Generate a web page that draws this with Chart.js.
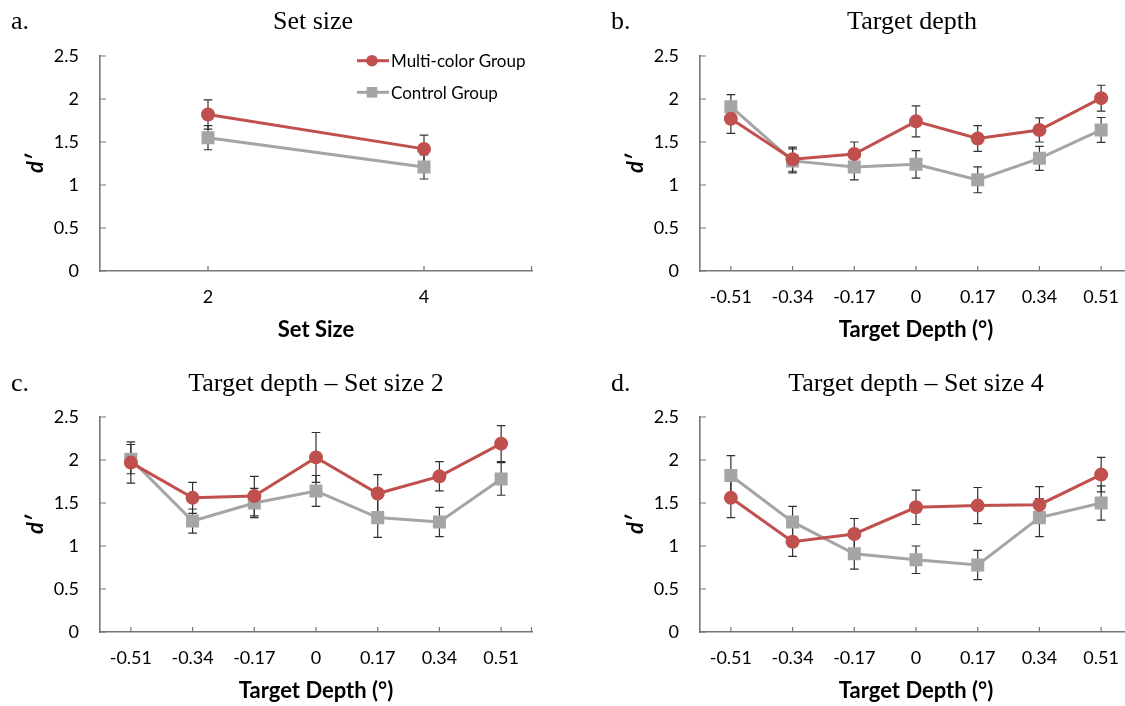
<!DOCTYPE html>
<html lang="en">
<head>
<meta charset="UTF-8">
<title>d' by set size and target depth</title>
<style>
  html, body { margin: 0; padding: 0; background: #fff; overflow: hidden; }
  body { width: 1125px; height: 706px; position: relative; }
  canvas { position: absolute; }
</style>
</head>
<body>
<canvas id="chartA" width="560" height="350" style="left:0px;top:0px"></canvas>
<canvas id="chartB" width="560" height="350" style="left:600px;top:0px"></canvas>
<canvas id="chartC" width="560" height="350" style="left:0px;top:361px"></canvas>
<canvas id="chartD" width="560" height="350" style="left:600px;top:361px"></canvas>

<script src="https://cdn.jsdelivr.net/npm/chart.js"></script>
<script>
// categories and tick labels
const setSizes = ['2', '4'];
const depths = ['-0.51', '-0.34', '-0.17', '0', '0.17', '0.34', '0.51'];
const yTickLabels = ['0', '0.5', '1', '1.5', '2', '2.5'];

// a. set size
const multiSet = [1.82, 1.42];
const multiSetErr = [0.17, 0.16];
const ctrlSet = [1.55, 1.21];
const ctrlSetErr = [0.14, 0.14];

// b. target depth
const multiDepth = [1.77, 1.30, 1.36, 1.74, 1.54, 1.64, 2.01];
const multiDepthErr = [0.17, 0.14, 0.14, 0.18, 0.15, 0.14, 0.15];
const ctrlDepth = [1.91, 1.28, 1.21, 1.24, 1.06, 1.31, 1.64];
const ctrlDepthErr = [0.14, 0.14, 0.15, 0.16, 0.15, 0.14, 0.145];

// c. target depth - set size 2
const multiSize2 = [1.97, 1.56, 1.58, 2.03, 1.61, 1.81, 2.19];
const multiSize2Err = [0.24, 0.18, 0.23, 0.29, 0.22, 0.17, 0.21];
const ctrlSize2 = [2.01, 1.29, 1.50, 1.64, 1.33, 1.28, 1.78];
const ctrlSize2Err = [0.17, 0.14, 0.17, 0.18, 0.23, 0.17, 0.19];

// d. target depth - set size 4
const multiSize4 = [1.56, 1.05, 1.14, 1.45, 1.47, 1.48, 1.83];
const multiSize4Err = [0.23, 0.17, 0.18, 0.20, 0.21, 0.21, 0.20];
const ctrlSize4 = [1.82, 1.28, 0.91, 0.84, 0.78, 1.33, 1.50];
const ctrlSize4Err = [0.23, 0.18, 0.18, 0.16, 0.17, 0.22, 0.20];

const red = '#C0504D';
const gray = '#A5A5A5';
const axisColor = '#767676';
const errColor = '#303030';

// error bars, inward tick marks, panel letter, title and legend
const panelDecor = {
    id: 'panelDecor',
    beforeDatasetsDraw(chart) {
        const ctx = chart.ctx;
        const y = chart.scales.y;
        ctx.save();
        ctx.strokeStyle = errColor;
        ctx.lineWidth = 1.2;
        chart.data.datasets.forEach((ds, i) => {
            const meta = chart.getDatasetMeta(i);
            meta.data.forEach((pt, j) => {
                const top = y.getPixelForValue(ds.data[j] + ds.errors[j]);
                const bot = y.getPixelForValue(ds.data[j] - ds.errors[j]);
                ctx.beginPath();
                ctx.moveTo(pt.x, top); ctx.lineTo(pt.x, bot);
                ctx.moveTo(pt.x - 4.3, top); ctx.lineTo(pt.x + 4.3, top);
                ctx.moveTo(pt.x - 4.3, bot); ctx.lineTo(pt.x + 4.3, bot);
                ctx.stroke();
            });
        });
        ctx.restore();
    },
    afterDraw(chart, args, opts) {
        const ctx = chart.ctx;
        const area = chart.chartArea;
        const x = chart.scales.x;
        const y = chart.scales.y;
        ctx.save();
        // tick marks pointing into the plot
        ctx.strokeStyle = axisColor;
        ctx.lineWidth = 1.2;
        ctx.beginPath();
        x.ticks.forEach((t, i) => {
            const px = x.getPixelForTick(i);
            ctx.moveTo(px, area.bottom); ctx.lineTo(px, area.bottom - 5);
        });
        ctx.moveTo(area.right - 0.5, area.bottom); ctx.lineTo(area.right - 0.5, area.bottom - 5);
        y.ticks.forEach((t, i) => {
            const py = y.getPixelForTick(i);
            ctx.moveTo(area.left, py); ctx.lineTo(area.left + 6, py);
        });
        ctx.stroke();

        // letter and title
        ctx.fillStyle = '#000';
        ctx.textBaseline = 'alphabetic';
        ctx.font = '26px "Liberation Serif", "Times New Roman", serif';
        ctx.textAlign = 'left';
        ctx.fillText(opts.letter, opts.letterX, opts.titleY);
        ctx.textAlign = 'center';
        ctx.fillText(opts.title, opts.titleX, opts.titleY);

        // legend
        if (opts.legend) {
            const rows = [60.7, 92.3];
            chart.data.datasets.forEach((ds, i) => {
                const ly = rows[i];
                ctx.strokeStyle = ds.borderColor;
                ctx.lineWidth = 3;
                ctx.beginPath();
                ctx.moveTo(357, ly); ctx.lineTo(389, ly);
                ctx.stroke();
                ctx.fillStyle = ds.backgroundColor;
                if (ds.pointStyle === 'circle') {
                    ctx.beginPath();
                    ctx.arc(372, ly, 5.8, 0, Math.PI * 2);
                    ctx.fill();
                } else {
                    ctx.fillRect(372 - 5.3, ly - 5.3, 10.6, 10.6);
                }
                ctx.fillStyle = '#000';
                ctx.textAlign = 'left';
                ctx.textBaseline = 'middle';
                ctx.font = '17px Lato';
                ctx.fillText(ds.label, 391, ly + 1);
            });
        }
        ctx.restore();
    }
};

function makeChart(id, labels, multi, multiErr, ctrl, ctrlErr, decor) {
    return new Chart(document.getElementById(id), {
        type: 'line',
        data: {
            labels: labels,
            datasets: [{
                label: 'Multi-color Group',
                data: multi,
                errors: multiErr,
                borderColor: red,
                backgroundColor: red,
                borderWidth: 3,
                pointStyle: 'circle',
                pointRadius: 7,
                pointBorderWidth: 0,
                tension: 0
            }, {
                label: 'Control Group',
                data: ctrl,
                errors: ctrlErr,
                borderColor: gray,
                backgroundColor: gray,
                borderWidth: 3,
                pointStyle: 'rect',
                pointRadius: 9.2,
                pointBorderWidth: 0,
                tension: 0
            }]
        },
        options: {
            responsive: false,
            animation: false,
            events: [],
            layout: { padding: { top: 56, right: 28, left: 0, bottom: 0 } },
            plugins: {
                legend: { display: false },
                tooltip: { enabled: false },
                panelDecor: decor
            },
            scales: {
                x: {
                    offset: true,
                    grid: { display: false, drawTicks: false },
                    border: { color: axisColor, width: 1.6 },
                    ticks: {
                        color: '#000',
                        font: { family: 'Lato', size: 18 },
                        padding: 15,
                        maxRotation: 0,
                        autoSkip: false
                    },
                    title: {
                        display: true,
                        text: decor.xTitle,
                        color: '#000',
                        font: { family: 'Lato', size: 22, weight: 'bold' },
                        padding: { top: 0, bottom: 7 }
                    },
                    afterFit: s => { s.height = 79; }
                },
                y: {
                    min: 0,
                    max: 2.5,
                    grid: { display: false, drawTicks: false },
                    border: { color: axisColor, width: 1.6 },
                    ticks: {
                        stepSize: 0.5,
                        color: '#000',
                        font: { family: 'Lato', size: 18 },
                        padding: 21,
                        callback: (v, i) => yTickLabels[i]
                    },
                    title: {
                        display: true,
                        text: 'd\u2032',
                        color: '#000',
                        font: { family: 'Lato', size: 22, weight: 'bold', style: 'italic' },
                        padding: { top: 23, bottom: 0 }
                    },
                    afterFit: s => { s.width = 100; }
                }
            }
        },
        plugins: [panelDecor]
    });
}

makeChart('chartA', setSizes, multiSet, multiSetErr, ctrlSet, ctrlSetErr,
    { letter: 'a.', letterX: 11, title: 'Set size', titleX: 313, titleY: 29, xTitle: 'Set Size', legend: true });
makeChart('chartB', depths, multiDepth, multiDepthErr, ctrlDepth, ctrlDepthErr,
    { letter: 'b.', letterX: 11, title: 'Target depth', titleX: 312, titleY: 29, xTitle: 'Target Depth (\u00b0)', legend: false });
makeChart('chartC', depths, multiSize2, multiSize2Err, ctrlSize2, ctrlSize2Err,
    { letter: 'c.', letterX: 11, title: 'Target depth \u2013 Set size 2', titleX: 316, titleY: 30, xTitle: 'Target Depth (\u00b0)', legend: false });
makeChart('chartD', depths, multiSize4, multiSize4Err, ctrlSize4, ctrlSize4Err,
    { letter: 'd.', letterX: 11, title: 'Target depth \u2013 Set size 4', titleX: 316, titleY: 30, xTitle: 'Target Depth (\u00b0)', legend: false });
</script>
</body>
</html>
